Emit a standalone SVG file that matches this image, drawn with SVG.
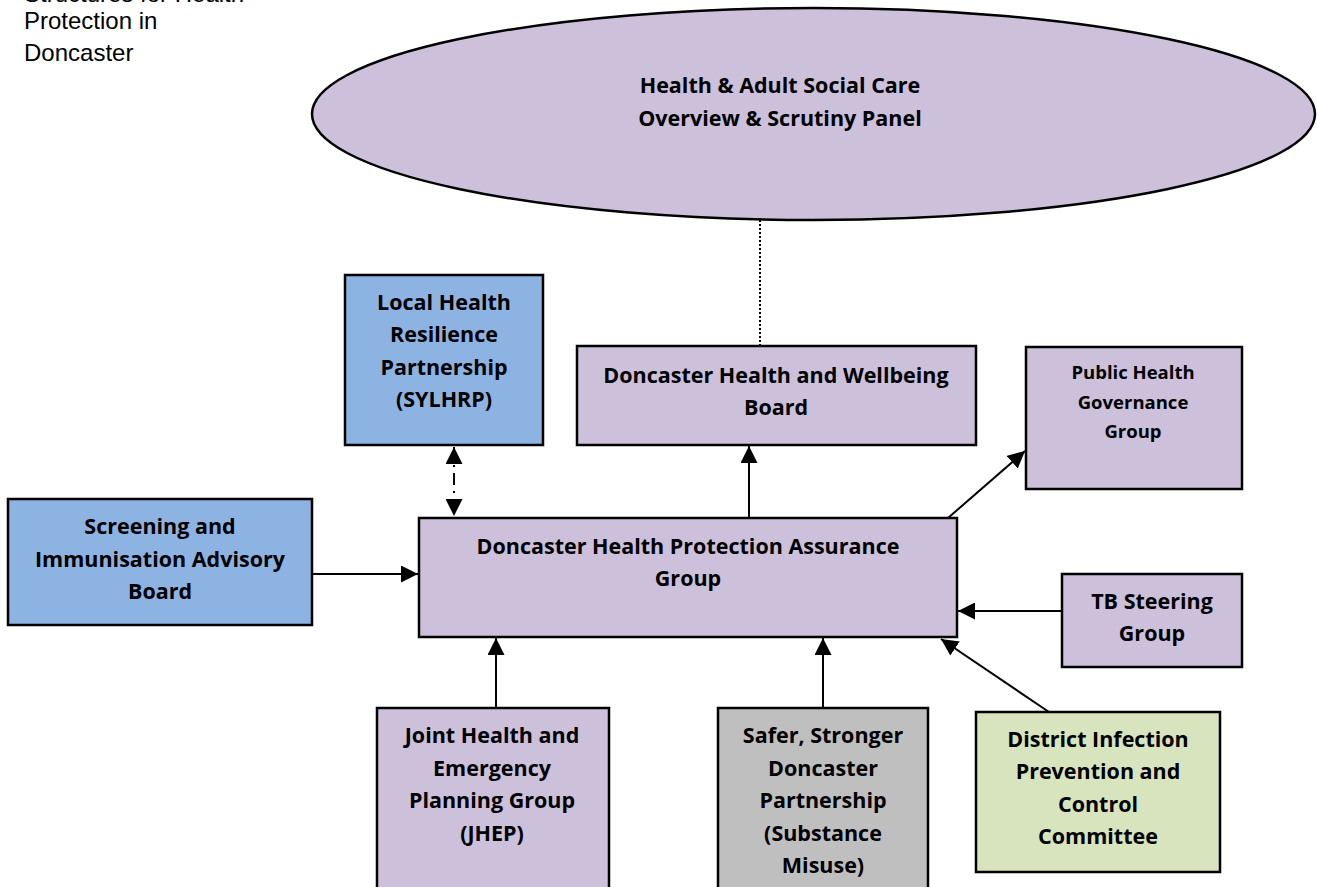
<svg xmlns="http://www.w3.org/2000/svg" width="1317" height="887" viewBox="0 0 1317 887">
<defs>
<style>
.box{stroke:#000;stroke-width:2.5}
.p{fill:#CCC0DA}
.b{fill:#8DB3E2}
.g{fill:#BFBFBF}
.gr{fill:#D7E4BD}
.t{font-family:"Open Sans",Lato,"Liberation Sans",sans-serif;font-weight:bold;font-size:21.5px;text-anchor:middle;fill:#000}
.ts{font-size:18.5px}
.c{stroke:#000;stroke-width:2;fill:none}
.hd{font-family:"Liberation Sans",Arial,sans-serif;font-size:24px;fill:#000}
</style>
<marker id="a" viewBox="0 0 10 10" refX="10" refY="5" markerWidth="17" markerHeight="17" markerUnits="userSpaceOnUse" orient="auto-start-reverse">
<path d="M0,0 L10,5 L0,10 z" fill="#000"/>
</marker>
</defs>
<rect width="1317" height="887" fill="#fff"/>
<g id="title">
<text class="hd" x="24" y="2">Structures for Health</text>
<text class="hd" x="24" y="29">Protection in</text>
<text class="hd" x="24" y="61">Doncaster</text>
</g>
<g id="connectors">
<line class="c" x1="760" y1="220" x2="760" y2="346" stroke-dasharray="2,2"/>
<line class="c" x1="454" y1="447" x2="454" y2="516" stroke-dasharray="12,6,2,6" marker-start="url(#a)" marker-end="url(#a)"/>
<line class="c" x1="312" y1="574" x2="418" y2="574" marker-end="url(#a)"/>
<line class="c" x1="749" y1="518" x2="749" y2="446" marker-end="url(#a)"/>
<line class="c" x1="948" y1="518" x2="1025" y2="451" marker-end="url(#a)"/>
<line class="c" x1="1062" y1="611" x2="958" y2="611" marker-end="url(#a)"/>
<line class="c" x1="1049" y1="712" x2="941" y2="639" marker-end="url(#a)"/>
<line class="c" x1="496" y1="708" x2="496" y2="638" marker-end="url(#a)"/>
<line class="c" x1="823" y1="708" x2="823" y2="638" marker-end="url(#a)"/>
</g>
<g id="panel">
<ellipse class="box p" cx="813.5" cy="114" rx="501.5" ry="106"/>
<text class="t" x="780" y="93">Health &amp; Adult Social Care</text>
<text class="t" x="780" y="126">Overview &amp; Scrutiny Panel</text>
</g>
<g id="lhrp">
<rect class="box b" x="345" y="275" width="198" height="170"/>
<text class="t" x="444" y="310">Local Health</text>
<text class="t" x="444" y="342">Resilience</text>
<text class="t" x="444" y="375">Partnership</text>
<text class="t" x="444" y="407">(SYLHRP)</text>
</g>
<g id="hwb">
<rect class="box p" x="577" y="346" width="399" height="99"/>
<text class="t" x="776" y="383">Doncaster Health and Wellbeing</text>
<text class="t" x="776" y="415">Board</text>
</g>
<g id="phgg">
<rect class="box p" x="1026" y="347" width="216" height="142"/>
<text class="t ts" x="1133" y="379">Public Health</text>
<text class="t ts" x="1133" y="409">Governance</text>
<text class="t ts" x="1133" y="438">Group</text>
</g>
<g id="siab">
<rect class="box b" x="8" y="499" width="304" height="126"/>
<text class="t" x="160" y="534">Screening and</text>
<text class="t" x="160" y="567">Immunisation Advisory</text>
<text class="t" x="160" y="599">Board</text>
</g>
<g id="dhpag">
<rect class="box p" x="419" y="518" width="538" height="119"/>
<text class="t" x="688" y="554">Doncaster Health Protection Assurance</text>
<text class="t" x="688" y="586">Group</text>
</g>
<g id="tb">
<rect class="box p" x="1062" y="574" width="180" height="93"/>
<text class="t" x="1152" y="609">TB Steering</text>
<text class="t" x="1152" y="641">Group</text>
</g>
<g id="jhep">
<rect class="box p" x="377" y="708" width="232" height="182"/>
<text class="t" x="492" y="743">Joint Health and</text>
<text class="t" x="492" y="776">Emergency</text>
<text class="t" x="492" y="808">Planning Group</text>
<text class="t" x="492" y="841">(JHEP)</text>
</g>
<g id="ssdp">
<rect class="box g" x="718" y="708" width="210" height="182"/>
<text class="t" x="823" y="743">Safer, Stronger</text>
<text class="t" x="823" y="776">Doncaster</text>
<text class="t" x="823" y="808">Partnership</text>
<text class="t" x="823" y="841">(Substance</text>
<text class="t" x="823" y="873">Misuse)</text>
</g>
<g id="dipcc">
<rect class="box gr" x="976" y="712" width="244" height="160"/>
<text class="t" x="1098" y="747">District Infection</text>
<text class="t" x="1098" y="779">Prevention and</text>
<text class="t" x="1098" y="812">Control</text>
<text class="t" x="1098" y="844">Committee</text>
</g>
</svg>
